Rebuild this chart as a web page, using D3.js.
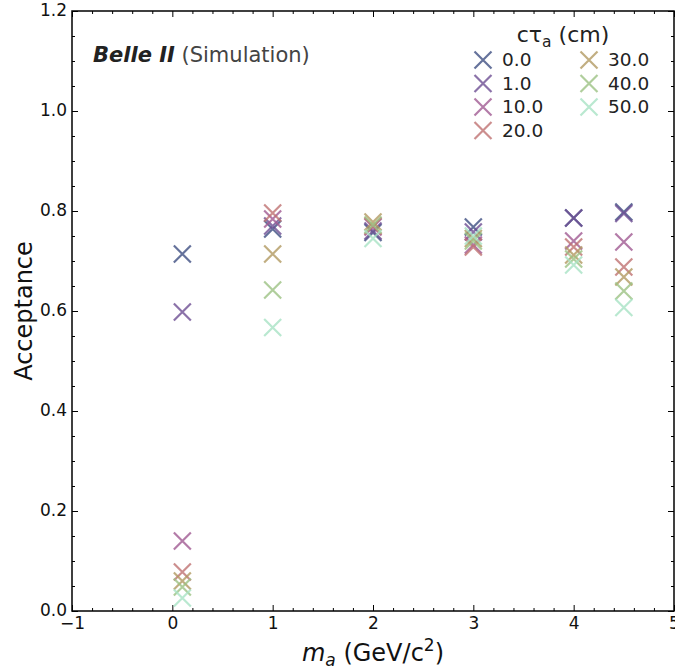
<!DOCTYPE html>
<html>
<head>
<meta charset="utf-8">
<script src="https://cdn.jsdelivr.net/npm/d3@7"></script>
<style>
  body { margin: 0; background: #fff; }
  svg { display: block; font-family: "DejaVu Sans", sans-serif; }
</style>
</head>
<body>
<svg width="675" height="669"></svg>
<script>
// masses (GeV/c^2) and lifetimes
const masses = [0.1, 1, 2, 3, 4, 4.5];
const ctaus = ["0.0", "1.0", "10.0", "20.0", "30.0", "40.0", "50.0"];
const colors = ["#3f4f82", "#6e4f94", "#a05a92", "#bf7272", "#b29a62", "#9cc283", "#a8e2c4"];

// acceptance per ctau, one value per mass
const acc00 = [0.714, 0.764, 0.757, 0.768, 0.786, 0.798];
const acc10 = [0.598, 0.770, 0.760, 0.758, 0.786, 0.795];
const acc100 = [0.140, 0.784, 0.768, 0.732, 0.740, 0.738];
const acc200 = [0.078, 0.796, 0.770, 0.728, 0.728, 0.688];
const acc300 = [0.060, 0.714, 0.778, 0.745, 0.712, 0.668];
const acc400 = [0.048, 0.642, 0.772, 0.740, 0.704, 0.640];
const acc500 = [0.026, 0.567, 0.745, 0.750, 0.692, 0.607];
const accs = [acc00, acc10, acc100, acc200, acc300, acc400, acc500];

const xTicks = [-1, 0, 1, 2, 3, 4, 5];
const yTicks = [0.0, 0.2, 0.4, 0.6, 0.8, 1.0, 1.2];

const svg = d3.select("svg");
const margin = { top: 11, right: 1, bottom: 58, left: 72 };
const width = +svg.attr("width") - margin.left - margin.right;
const height = +svg.attr("height") - margin.top - margin.bottom;
const chart = svg.append("g").attr("transform", `translate(${margin.left},${margin.top})`);

const x = d3.scaleLinear().domain([-1, 5]).range([0, width]);
const y = d3.scaleLinear().domain([0, 1.2]).range([height, 0]);

// ticks pointing inward on all four sides
const xMinor = d3.range(-1, 5.001, 0.2).filter(v => Math.abs(v - Math.round(v)) > 1e-6);
const yMinor = d3.range(0, 1.2001, 0.05).filter(v => Math.abs(v * 5 - Math.round(v * 5)) > 1e-6);

function addTicks(axisFn, scale, vals, len, transform, labels) {
  const g = chart.append("g")
    .attr("transform", transform)
    .call(axisFn(scale).tickValues(vals).tickSizeInner(-len).tickSizeOuter(0)
      .tickFormat(labels ? labels : ""));
  g.select(".domain").remove();
  g.selectAll("line").attr("stroke", "#000").attr("stroke-width", 1);
  return g;
}

const bx = addTicks(d3.axisBottom, x, xTicks, 6, `translate(0,${height})`, d => d < 0 ? "\u2212" + Math.abs(d) : d);
bx.attr("font-family", null).selectAll("text").attr("font-size", 17).attr("fill", "#111").attr("y", 6).attr("dy", "0.71em");
addTicks(d3.axisBottom, x, xMinor, 3, `translate(0,${height})`);
addTicks(d3.axisTop, x, xTicks, 6, "translate(0,0)");
addTicks(d3.axisTop, x, xMinor, 3, "translate(0,0)");

const ly = addTicks(d3.axisLeft, y, yTicks, 6, "translate(0,0)", d3.format(".1f"));
ly.attr("font-family", null).selectAll("text").attr("font-size", 17).attr("fill", "#111").attr("x", -5).attr("dy", "0.25em");
addTicks(d3.axisLeft, y, yMinor, 3, "translate(0,0)");
addTicks(d3.axisRight, y, yTicks, 6, `translate(${width},0)`);
addTicks(d3.axisRight, y, yMinor, 3, `translate(${width},0)`);

// frame
chart.append("rect")
  .attr("width", width).attr("height", height)
  .attr("fill", "none").attr("stroke", "#000").attr("stroke-width", 1.5);

// x markers
const r = 8.5;
const crossPath = (cx, cy) => `M${cx - r},${cy - r}L${cx + r},${cy + r}M${cx - r},${cy + r}L${cx + r},${cy - r}`;

ctaus.forEach((c, i) => {
  chart.append("g").selectAll("path")
    .data(masses.map((m, j) => ({ m, v: accs[i][j] })))
    .enter()
    .append("path")
    .attr("d", d => crossPath(x(d.m), y(d.v)))
    .attr("stroke", colors[i])
    .attr("stroke-width", 2.2)
    .attr("stroke-opacity", 0.8)
    .attr("fill", "none");
});

// Belle II label
const lab = svg.append("text").attr("x", 93).attr("y", 62);
lab.append("tspan").text("Belle II")
  .attr("font-weight", "bold").attr("font-style", "italic")
  .attr("font-size", 21).attr("fill", "#222");
lab.append("tspan").text(" (Simulation)")
  .attr("font-size", 21).attr("fill", "#444");

// Legend
const legend = svg.append("g");
const title = legend.append("text").attr("x", 563).attr("y", 42)
  .attr("text-anchor", "middle").attr("font-size", 22).attr("fill", "#222");
title.append("tspan").text("c\u03c4");
title.append("tspan").text("a").attr("font-size", 15.5).attr("dy", 5);
title.append("tspan").text(" (cm)").attr("dy", -5);

ctaus.forEach((c, i) => {
  const col = i < 4 ? 0 : 1;
  const rowI = i < 4 ? i : i - 4;
  const mx = col === 0 ? 483 : 589;
  const my = 60 + rowI * 23.5;
  legend.append("path")
    .attr("d", crossPath(mx, my))
    .attr("stroke", colors[i]).attr("stroke-width", 2.2)
    .attr("stroke-opacity", 0.8).attr("fill", "none");
  legend.append("text")
    .attr("x", mx + 19).attr("y", my + 6)
    .attr("font-size", 18.5).attr("fill", "#222")
    .text(c);
});

// Axis labels
const xl = svg.append("text")
  .attr("x", margin.left + x(2)).attr("y", 661)
  .attr("text-anchor", "middle").attr("font-size", 24).attr("fill", "#111");
xl.append("tspan").text("m").attr("font-style", "italic");
xl.append("tspan").text("a").attr("font-style", "italic").attr("font-size", 17).attr("dy", 5);
xl.append("tspan").text(" (GeV/c").attr("dy", -5);
xl.append("tspan").text("2").attr("font-size", 17).attr("dy", -10);
xl.append("tspan").text(")").attr("dy", 10);

svg.append("text")
  .attr("transform", `translate(32,${margin.top + height / 2}) rotate(-90)`)
  .attr("text-anchor", "middle").attr("font-size", 24).attr("fill", "#111")
  .text("Acceptance");
</script>
</body>
</html>
